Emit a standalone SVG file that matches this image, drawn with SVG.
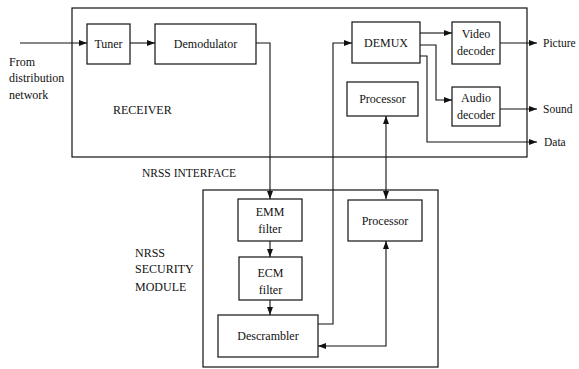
<svg xmlns="http://www.w3.org/2000/svg" width="579" height="369" viewBox="0 0 579 369">
<style>
.box{fill:none;stroke:#111;stroke-width:1.2}
.c{fill:none;stroke:#111;stroke-width:1.1}
text{font-family:"Liberation Serif","Times New Roman",serif;font-size:12px;fill:#111}
.m{text-anchor:middle}
.s{font-size:11.5px}
</style>
<defs>
<marker id="a" markerUnits="userSpaceOnUse" markerWidth="8" markerHeight="6" refX="8" refY="3" orient="auto-start-reverse">
<path d="M0,0 L8,3 L0,6 z" fill="#111"/>
</marker>
</defs>
<rect width="579" height="369" fill="#fff"/>
<g id="receiver">
<rect class="box" x="72" y="8" width="455" height="149"/>
<text x="113" y="114">RECEIVER</text>
</g>
<g id="security-module">
<rect class="box" x="203" y="190" width="235" height="177"/>
<text x="135" y="257">NRSS</text>
<text x="135" y="273">SECURITY</text>
<text x="135" y="291">MODULE</text>
</g>
<g id="source"><text x="9" y="66">From</text><text x="9" y="82">distribution</text><text x="9" y="99">network</text></g>
<g id="interface"><text class="s" x="142" y="177">NRSS INTERFACE</text></g>
<g id="tuner"><rect class="box" x="87" y="24" width="43" height="40"/><text class="m" x="108.5" y="48">Tuner</text></g>
<g id="demodulator"><rect class="box" x="155" y="24" width="101" height="40"/><text class="m" x="205.5" y="48">Demodulator</text></g>
<g id="demux"><rect class="box" x="352" y="22" width="68" height="41"/><text class="m" x="386" y="47">DEMUX</text></g>
<g id="processor-rx"><rect class="box" x="347" y="82" width="71" height="34"/><text class="m" x="382.5" y="103">Processor</text></g>
<g id="video-decoder"><rect class="box" x="452" y="22" width="48" height="42"/><text class="m" x="476" y="38">Video</text><text class="m" x="476" y="55">decoder</text></g>
<g id="audio-decoder"><rect class="box" x="452" y="87" width="48" height="39"/><text class="m" x="476" y="102">Audio</text><text class="m" x="476" y="119">decoder</text></g>
<g id="emm-filter"><rect class="box" x="238" y="199" width="64" height="42"/><text class="m" x="270" y="216">EMM</text><text class="m" x="270" y="233">filter</text></g>
<g id="ecm-filter"><rect class="box" x="239" y="257" width="63" height="43"/><text class="m" x="270.5" y="277">ECM</text><text class="m" x="270.5" y="294">filter</text></g>
<g id="descrambler"><rect class="box" x="218" y="315" width="100" height="42"/><text class="m" x="268" y="340">Descrambler</text></g>
<g id="processor-sm"><rect class="box" x="348" y="200" width="74" height="41"/><text class="m" x="385" y="225">Processor</text></g>
<g id="outputs"><text class="s" x="543" y="47">Picture</text><text class="s" x="543" y="113">Sound</text><text class="s" x="544" y="146">Data</text></g>
<g id="connectors">
<path class="c" d="M20,43 H87" marker-end="url(#a)"/>
<path class="c" d="M130,43 H155" marker-end="url(#a)"/>
<path class="c" d="M256,43 H270 V199" marker-end="url(#a)"/>
<path class="c" d="M270,241 V257" marker-end="url(#a)"/>
<path class="c" d="M270,300 V315" marker-end="url(#a)"/>
<path class="c" d="M318,324 H333 V43 H352" marker-end="url(#a)"/>
<path class="c" d="M386,116 V199" marker-start="url(#a)" marker-end="url(#a)"/>
<path class="c" d="M386,241 V346 H318" marker-start="url(#a)" marker-end="url(#a)"/>
<path class="c" d="M420,33 H452" marker-end="url(#a)"/>
<path class="c" d="M420,45 H436 V100 H452" marker-end="url(#a)"/>
<path class="c" d="M420,56 H427 V142 H537" marker-end="url(#a)"/>
<path class="c" d="M500,43 H537" marker-end="url(#a)"/>
<path class="c" d="M500,109 H537" marker-end="url(#a)"/>
</g>
</svg>
